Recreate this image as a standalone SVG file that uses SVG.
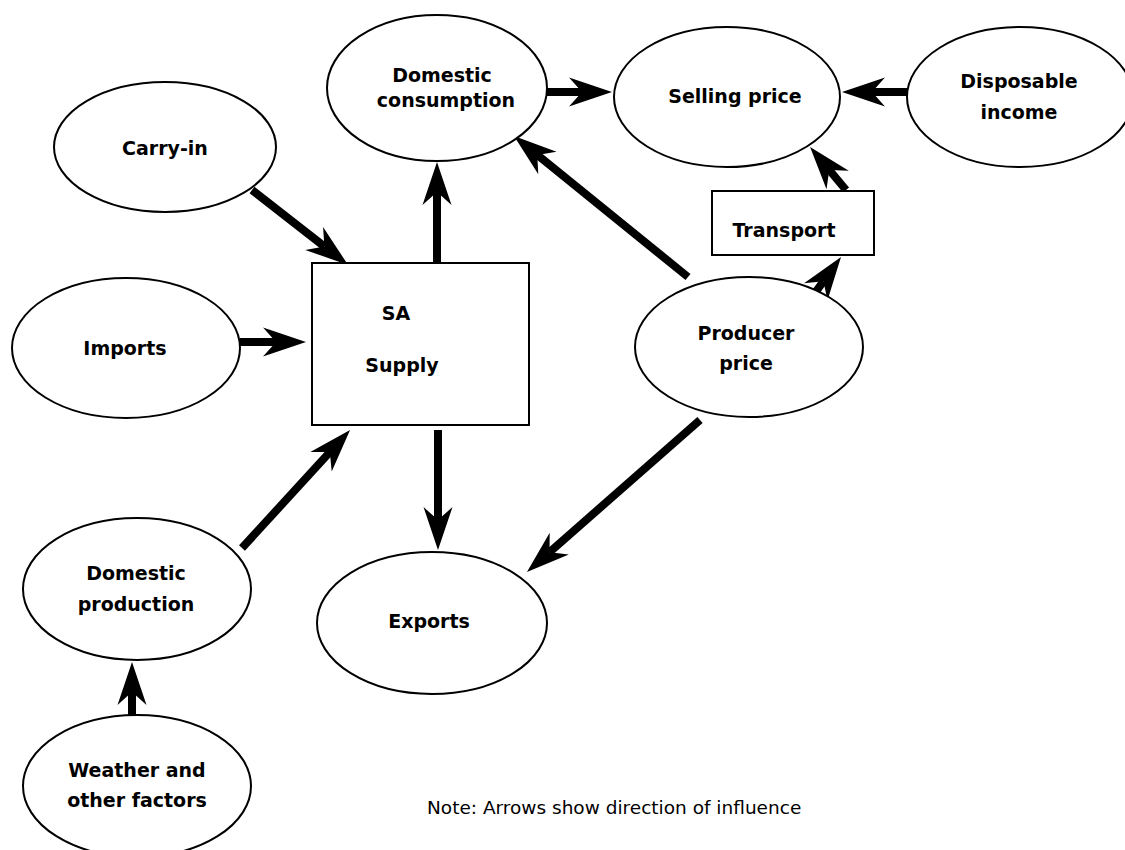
<svg xmlns="http://www.w3.org/2000/svg" width="1125" height="850" viewBox="0 0 1125 850">
<style>
.n{fill:#fff;stroke:#000;stroke-width:2}
.t{font-family:"DejaVu Sans",Verdana,sans-serif;font-weight:bold;font-size:19px;text-anchor:middle;fill:#000}
.a{stroke:#000;stroke-width:8;fill:none;marker-end:url(#h)}
.note{font-family:"DejaVu Sans",Verdana,sans-serif;font-size:18.5px;fill:#000}
</style>
<defs>
<marker id="h" markerUnits="userSpaceOnUse" markerWidth="50" markerHeight="40" viewBox="-16 -16 50 32" refX="0" refY="0" orient="auto" overflow="visible">
<path d="M30,0 L-13,-14.5 L0,0 L-13,14.5 Z" fill="#000"/>
</marker>
</defs>
<rect width="1125" height="850" fill="#fff"/>
<g id="connectors">
<line class="a" x1="252" y1="190" x2="324.4" y2="246.5"/>
<line class="a" x1="240" y1="342" x2="276" y2="342"/>
<line class="a" x1="242" y1="548" x2="329.8" y2="452.1"/>
<line class="a" x1="437" y1="265" x2="437" y2="192"/>
<line class="a" x1="438" y1="430" x2="438" y2="520"/>
<line class="a" x1="547" y1="92" x2="582" y2="92"/>
<line class="a" x1="907" y1="92" x2="872" y2="92"/>
<line class="a" x1="688" y1="277" x2="537.3" y2="154.9"/>
<line class="a" x1="700" y1="420" x2="549.5" y2="552.2"/>
<line class="a" x1="812" y1="297" x2="823.4" y2="281.3"/>
<line class="a" x1="846" y1="190" x2="829.3" y2="170"/>
<line class="a" x1="132" y1="715" x2="132" y2="692"/>
</g>
<g id="carry-in"><ellipse class="n" cx="165" cy="147" rx="111" ry="65"/><text class="t" x="165" y="155">Carry-in</text></g>
<g id="imports"><ellipse class="n" cx="126" cy="348" rx="114" ry="70"/><text class="t" x="125" y="355">Imports</text></g>
<g id="domestic-production"><ellipse class="n" cx="137" cy="589" rx="114" ry="71"/><text class="t" x="136" y="580">Domestic</text><text class="t" x="136" y="611">production</text></g>
<g id="weather"><ellipse class="n" cx="137" cy="786" rx="114" ry="71"/><text class="t" x="137" y="777">Weather and</text><text class="t" x="137" y="807">other factors</text></g>
<g id="domestic-consumption"><ellipse class="n" cx="437" cy="88" rx="110" ry="73"/><text class="t" x="442" y="82">Domestic</text><text class="t" x="446" y="107">consumption</text></g>
<g id="selling-price"><ellipse class="n" cx="727" cy="97" rx="113" ry="70"/><text class="t" x="735" y="103">Selling price</text></g>
<g id="disposable-income"><ellipse class="n" cx="1020" cy="97" rx="113" ry="70"/><text class="t" x="1019" y="88">Disposable</text><text class="t" x="1019" y="119">income</text></g>
<g id="producer-price"><ellipse class="n" cx="749" cy="347" rx="114" ry="70"/><text class="t" x="746" y="340">Producer</text><text class="t" x="746" y="370">price</text></g>
<g id="exports"><ellipse class="n" cx="432" cy="623" rx="115" ry="71"/><text class="t" x="429" y="628">Exports</text></g>
<g id="sa-supply"><rect class="n" x="312" y="263" width="217" height="162"/><text class="t" x="396" y="320">SA</text><text class="t" x="402" y="372">Supply</text></g>
<g id="transport"><rect class="n" x="712" y="191" width="162" height="64"/><text class="t" x="784" y="237">Transport</text></g>
<text class="note" x="427" y="814">Note: Arrows show direction of influence</text>
</svg>
